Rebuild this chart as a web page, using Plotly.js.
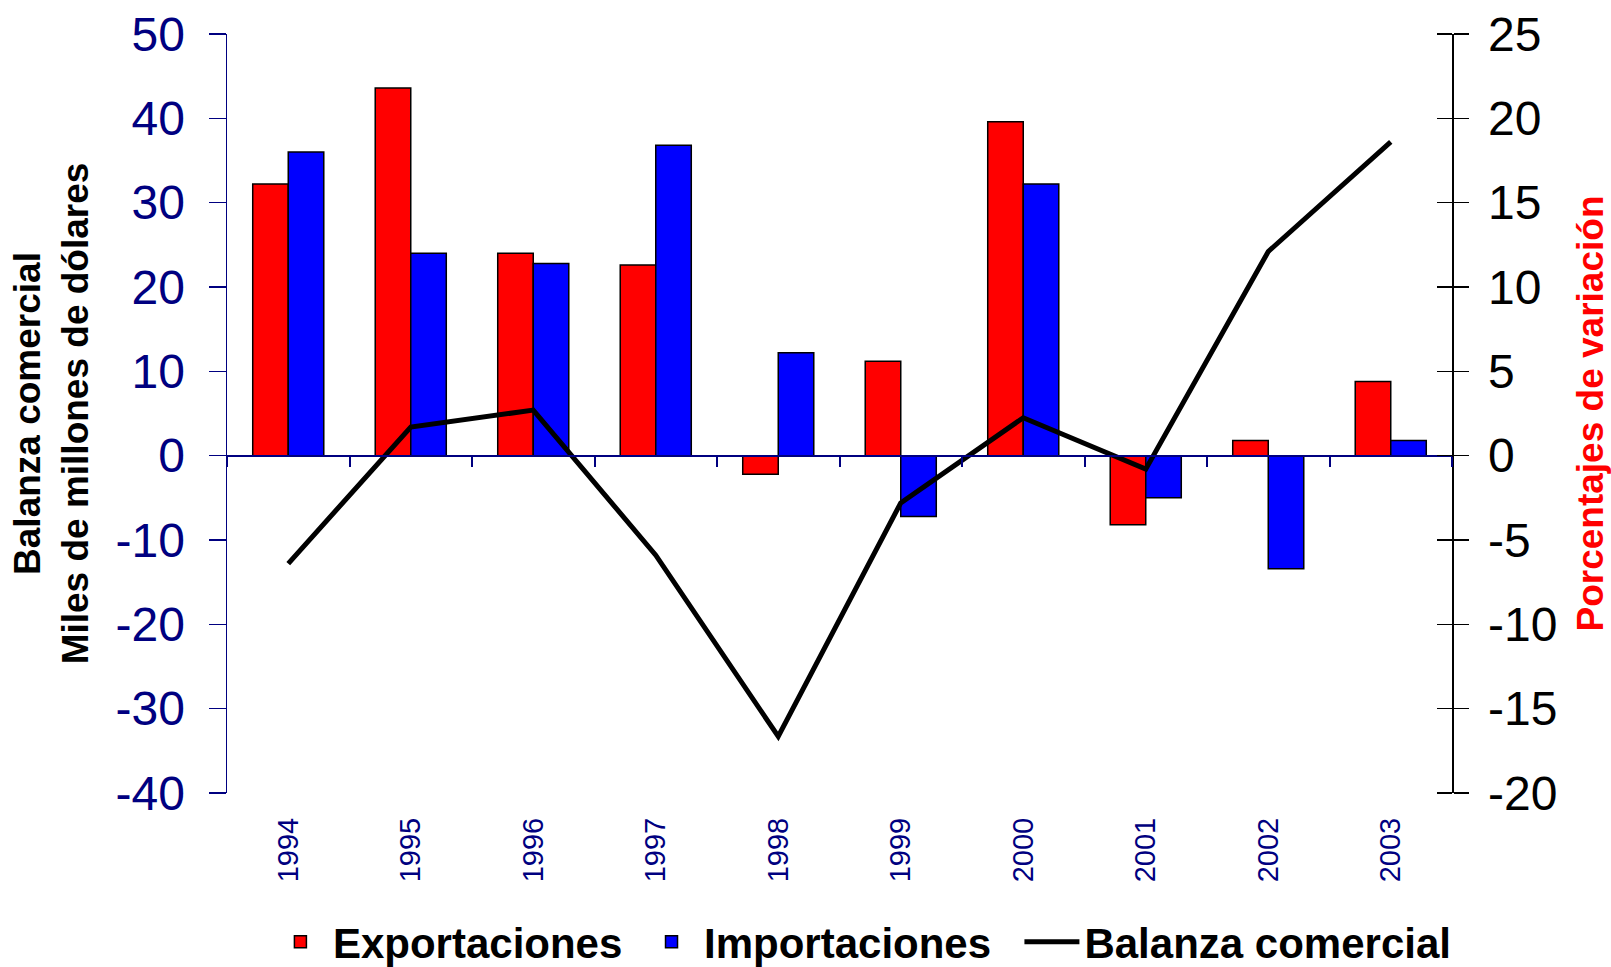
<!DOCTYPE html>
<html>
<head>
<meta charset="utf-8">
<script src="https://cdn.plot.ly/plotly-3.0.1.min.js"></script>
<style>html,body{margin:0;padding:0;background:#fff;}#chart{width:1611px;height:967px;}</style>
</head>
<body>
<div id="chart"></div>
<script>
const years = ["1994","1995","1996","1997","1998","1999","2000","2001","2002","2003"];
const exportaciones = [16.1, 21.8, 12.0, 11.3, -1.1, 5.6, 19.8, -4.1, 0.9, 4.4];
const importaciones = [18.0, 12.0, 11.4, 18.4, 6.1, -3.6, 16.1, -2.5, -6.7, 0.9];
const balanza = [-12.8, 3.4, 5.4, -11.8, -33.3, -5.6, 4.5, -1.6, 24.2, 37.2];

const leftRange = [-40, 50];
const leftStep = 10;
const rightRange = [-20, 25];
const rightStep = 5;
const NAVY = "#000080";
const FONT = "Liberation Sans, Arial, sans-serif";
const NBSP = "\u00A0";

function tickList(range, step) {
  const out = [];
  for (let v = range[0]; v <= range[1] + 1e-9; v += step) out.push(v);
  return out;
}
const leftTicks = tickList(leftRange, leftStep);
const rightTicks = tickList(rightRange, rightStep);
const zeroPos = (0 - leftRange[0]) / (leftRange[1] - leftRange[0]);

const traces = [
  {type: "bar", name: "Exportaciones" + NBSP, x: years, y: exportaciones, xaxis: "x", yaxis: "y",
   marker: {color: "#FF0000", line: {color: "#000000", width: 1.5}}},
  {type: "bar", name: "Importaciones" + NBSP + NBSP, x: years, y: importaciones, xaxis: "x", yaxis: "y",
   marker: {color: "#0000FF", line: {color: "#000000", width: 1.5}}},
  {type: "scatter", mode: "lines", name: "Balanza comercial", x: years, y: balanza, xaxis: "x2", yaxis: "y2",
   line: {color: "#000000", width: 5}}
];

const layout = {
  width: 1611, height: 967,
  margin: {l: 227, r: 159, t: 34, b: 174},
  paper_bgcolor: "#ffffff", plot_bgcolor: "#ffffff",
  font: {family: FONT, color: "#000000"},
  barmode: "group", bargap: 0.42, bargroupgap: 0,
  showlegend: true,
  legend: {orientation: "h", xref: "container", yref: "container", x: 0.1663, xanchor: "left",
           y: 0.026, yanchor: "middle", itemwidth: 55, traceorder: "normal",
           font: {family: FONT, size: 42, weight: "bold", color: "#000000"}},
  xaxis: {type: "category", categoryorder: "array", categoryarray: years, range: [-0.5, years.length - 0.5],
          tickangle: -90, tickfont: {family: FONT, size: 29, color: NAVY}, ticks: "", ticklabelstandoff: 18,
          showline: false, showgrid: false, zeroline: false},
  xaxis2: {type: "category", categoryorder: "array", categoryarray: years, overlaying: "x",
           anchor: "free", position: zeroPos, side: "bottom", range: [-0.5, years.length - 0.5],
           tickson: "boundaries", ticks: "outside", ticklen: 10, tickwidth: 2, tickcolor: NAVY,
           showticklabels: false, showline: true, linecolor: NAVY, linewidth: 2,
           showgrid: false, zeroline: false},
  yaxis: {side: "right", range: rightRange, tickmode: "array", tickvals: rightTicks,
          ticktext: rightTicks.map(String),
          ticks: "outside", ticklen: 15, tickwidth: 1.5, tickcolor: "#000000",
          minor: {ticks: "inside", ticklen: 15, tickwidth: 1.5, tickcolor: "#000000",
                  tickmode: "array", tickvals: rightTicks, showgrid: false},
          showline: true, linecolor: "#000000", linewidth: 1.5, showgrid: false, zeroline: false,
          tickfont: {family: FONT, size: 48, color: "#000000"}, ticklabelstandoff: 10,
          title: {text: "Porcentajes de variación", standoff: 22,
                  font: {family: FONT, size: 37, weight: "bold", color: "#FF0000"}}},
  yaxis2: {side: "left", overlaying: "y", range: leftRange, tickmode: "array", tickvals: leftTicks,
           ticktext: leftTicks.map(String),
           ticks: "outside", ticklen: 17, tickwidth: 1.5, tickcolor: NAVY,
           showline: true, linecolor: NAVY, linewidth: 1.5, showgrid: false, zeroline: false,
           tickfont: {family: FONT, size: 48, color: NAVY}, ticklabelstandoff: 14,
           title: {text: "Balanza comercial<br>Miles de millones de dólares", standoff: 15,
                   font: {family: FONT, size: 37, weight: "bold", color: "#000000"}}}
};

Plotly.newPlot("chart", traces, layout, {displayModeBar: false, staticPlot: true});
</script>
</body>
</html>
